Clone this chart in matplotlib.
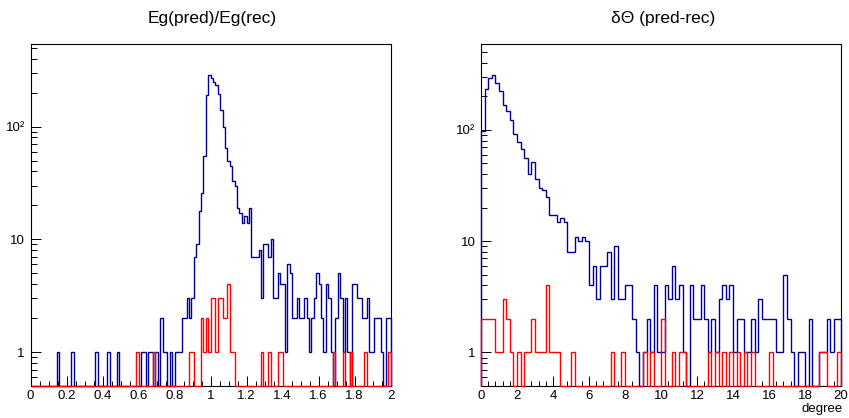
import numpy as np
import matplotlib
matplotlib.use("Agg")
import matplotlib.pyplot as plt
from matplotlib.ticker import FixedLocator, MultipleLocator, NullFormatter, FuncFormatter

plt.rcParams['font.family'] = ['Liberation Sans', 'DejaVu Sans']

# ---------------- data ----------------
# Left: Eg(pred)/Eg(rec), 150 bins on [0, 2]
eratio_range = (0.0, 2.0)
eratio_all = [
    0, 0, 0, 0, 0, 0, 0, 0, 0, 0,      # 0-9
    0, 1, 0, 0, 0, 0, 0, 1, 0, 0,      # 10-19
    0, 0, 0, 0, 0, 0, 0, 1, 0, 0,      # 20-29
    0, 0, 1, 0, 0, 0, 1, 0, 0, 0,      # 30-39
    0, 0, 0, 0, 0, 0, 1, 1, 0, 1,      # 40-49
    1, 0, 1, 0, 2, 1, 1, 0, 1, 0,      # 50-59
    1, 1, 1, 2, 2, 3, 2, 3, 7, 9,      # 60-69
    18, 26, 55, 190, 285, 270, 250, 235, 195, 140,   # 70-79
    100, 65, 50, 45, 33, 30, 19, 17, 14, 16,          # 80-89
    14, 19, 7, 7, 7, 8, 3, 9, 9, 7,    # 90-99
    10, 3, 3, 5, 4, 4, 1, 6, 5, 2,     # 100-109
    2, 3, 2, 2, 3, 2, 1, 2, 3, 5,      # 110-119
    4, 2, 1, 4, 3, 1, 0, 2, 5, 3,      # 120-129
    1, 3, 1, 0, 4, 4, 3, 3, 2, 2,      # 130-139
    3, 1, 1, 2, 2, 2, 1, 0, 2, 2,      # 140-149
]
eratio_sel = [
    0, 0, 0, 0, 0, 0, 0, 0, 0, 0,
    0, 0, 0, 0, 0, 0, 0, 0, 0, 0,
    0, 0, 0, 0, 0, 0, 0, 0, 0, 0,
    0, 0, 0, 0, 0, 0, 0, 0, 0, 0,
    0, 0, 0, 0, 1, 0, 0, 0, 0, 0,
    0, 1, 0, 0, 0, 0, 0, 0, 0, 0,
    0, 0, 0, 0, 0, 0, 1, 1, 0, 0,
    0, 2, 1, 2, 1, 3, 3, 1, 3, 3,
    2, 2, 4, 1, 1, 0, 0, 0, 0, 0,
    0, 0, 0, 0, 0, 0, 1, 0, 0, 1,
    0, 0, 0, 1, 1, 0, 0, 0, 0, 0,
    0, 0, 0, 0, 0, 0, 0, 0, 0, 0,
    0, 0, 0, 0, 0, 0, 1, 0, 0, 0,
    1, 0, 0, 1, 0, 0, 0, 0, 0, 1,
    0, 0, 0, 0, 0, 0, 0, 0, 0, 1,
]

# Right: delta Theta (pred-rec) in degree, 100 bins on [0, 20]
dtheta_range = (0.0, 20.0)
dtheta_all = [
    97, 235, 290, 310, 265, 225, 167, 148, 123, 92,   # 0-9
    78, 67, 56, 40, 51, 36, 30, 29, 25, 17,           # 10-19
    17, 15, 16, 15, 8, 8, 11, 10, 11, 10,             # 20-29
    4, 6, 3, 6, 6, 8, 3, 9, 3, 3,                     # 30-39
    4, 4, 2, 1, 0, 1, 2, 1, 4, 1,                     # 40-49
    1, 4, 3, 6, 3, 4, 1, 0, 4, 2,                     # 50-59
    2, 4, 2, 1, 2, 1, 3, 4, 3, 4,                     # 60-69
    1, 2, 2, 1, 1, 2, 1, 3, 2, 2,                     # 70-79
    2, 2, 1, 1, 5, 2, 1, 0, 1, 1,                     # 80-89
    0, 2, 0, 0, 1, 1, 2, 1, 2, 2,                     # 90-99
]
dtheta_sel = [
    2, 2, 2, 2, 1, 1, 3, 2, 1, 0,
    1, 0, 1, 1, 2, 1, 1, 1, 4, 1,
    1, 1, 0, 0, 0, 1, 0, 0, 0, 0,
    0, 0, 0, 0, 0, 0, 1, 0, 0, 1,
    0, 0, 0, 0, 0, 1, 0, 1, 0, 0,
    2, 0, 0, 1, 0, 1, 1, 0, 0, 0,
    0, 0, 0, 1, 0, 1, 0, 1, 0, 1,
    0, 1, 0, 1, 0, 1, 0, 0, 0, 0,
    1, 0, 0, 0, 0, 0, 0, 0, 0, 0,
    0, 0, 0, 0, 1, 1, 0, 0, 0, 1,
]

titles = ["Eg(pred)/Eg(rec)", "\u03b4\u0398 (pred-rec)"]
xlabel_right = "degree"
ylims = [(0.5, 540.0), (0.5, 590.0)]

BLUE = "#000099"
RED = "#ff0000"

W, H = 849, 418
fig = plt.figure(figsize=(W / 100, H / 100), dpi=100)

frames = [(30.5, 390.5), (481.0, 841.0)]
ytop, ybot = 44.0, 386.0


def make_ax(x0, x1):
    return fig.add_axes([x0 / W, (H - ybot) / H, (x1 - x0) / W, (ybot - ytop) / H])


def draw_hist(ax, vals, rng, color, ymin):
    v = np.asarray(vals, dtype=float)
    edges = np.linspace(rng[0], rng[1], len(v) + 1)
    v = np.where(v > 0, v, ymin)
    ax.stairs(v, edges, baseline=ymin, color=color, lw=1.0, clip_on=False, zorder=3)


def style(ax, rng, ylim, major, minor, fmt):
    ax.set_xlim(*rng)
    ax.set_yscale("log")
    ax.set_ylim(*ylim)
    ax.xaxis.set_major_locator(MultipleLocator(major))
    ax.xaxis.set_minor_locator(MultipleLocator(minor))
    ax.xaxis.set_major_formatter(FuncFormatter(fmt))
    ax.yaxis.set_major_locator(FixedLocator([1, 10, 100]))
    ax.yaxis.set_major_formatter(FuncFormatter(lambda y, p: {1: "1", 10: "10", 100: "10\u00b2"}.get(int(round(y)), "")))
    minors = [m * 10.0 ** e for e in (-1, 0, 1, 2) for m in range(2, 10)]
    ax.yaxis.set_minor_locator(FixedLocator(minors))
    ax.yaxis.set_minor_formatter(NullFormatter())
    ax.tick_params(which="both", direction="in", top=False, right=False, labelsize=9.5, width=0.7, colors="black")
    ax.tick_params(axis="x", which="major", length=7, pad=3)
    ax.tick_params(axis="x", which="minor", length=3.5)
    ax.tick_params(axis="y", which="major", length=7.5, pad=4)
    ax.tick_params(axis="y", which="minor", length=4)
    for s in ax.spines.values():
        s.set_linewidth(0.8)
        s.set_color("black")


axL = make_ax(*frames[0])
draw_hist(axL, eratio_all, eratio_range, BLUE, ylims[0][0])
draw_hist(axL, eratio_sel, eratio_range, RED, ylims[0][0])
style(axL, eratio_range, ylims[0], 0.2, 0.05, lambda x, p: ("%.1f" % x).rstrip("0").rstrip("."))

axR = make_ax(*frames[1])
draw_hist(axR, dtheta_all, dtheta_range, BLUE, ylims[1][0])
draw_hist(axR, dtheta_sel, dtheta_range, RED, ylims[1][0])
style(axR, dtheta_range, ylims[1], 2, 0.4, lambda x, p: "%d" % round(x))

fig.text(212 / W, 1 - 18 / H, titles[0], ha="center", va="center", fontsize=12.5)
fig.text(663 / W, 1 - 18 / H, titles[1], ha="center", va="center", fontsize=12.5)
fig.text(843 / W, 1 - 409 / H, xlabel_right, ha="right", va="center", fontsize=9.5)

fig.savefig("out.png", dpi=100, facecolor="white")
